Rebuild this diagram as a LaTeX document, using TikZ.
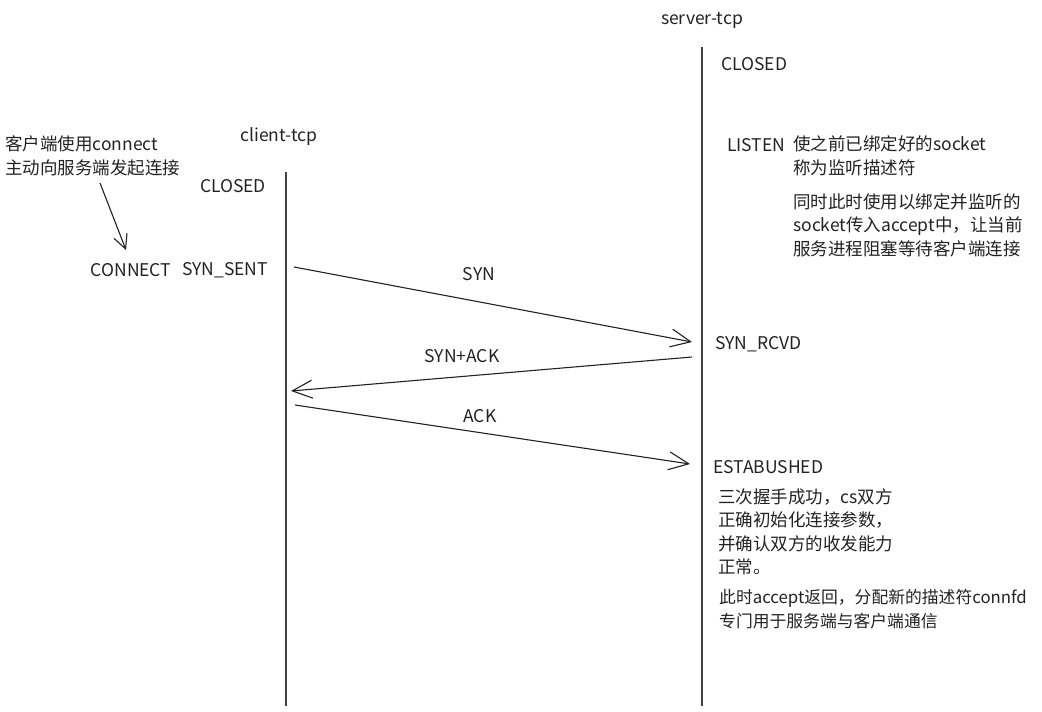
\documentclass[tikz,border=0pt]{standalone}
\usepackage{fontspec}
\setmainfont{Noto Sans CJK SC}
\usetikzlibrary{arrows.meta}
\definecolor{ink}{HTML}{222222}
\definecolor{lifeln}{HTML}{444444}
\tikzset{
  txt/.style={inner sep=0pt, text=ink, font=\fontsize{17.5}{23.5}\selectfont},
  lbl/.style={txt, anchor=west, align=left},
  life/.style={draw=lifeln, line width=1.3pt},
  msg/.style={draw=ink, line width=1.1pt, -{Straight Barb[length=20pt,width=18pt,line width=1.1pt]}},
  note/.style={draw=ink, line width=1.1pt, -{Straight Barb[length=14pt,width=14pt,line width=1.1pt]}}
}
\begin{document}
\begin{tikzpicture}[x=1pt,y=-1pt]
\useasboundingbox (0,0) rectangle (1042,712);
% lifelines
\coordinate (ctop) at (286,172);
\coordinate (cbot) at (286,706);
\coordinate (stop) at (702,47);
\coordinate (sbot) at (702,706);
\draw[life] (ctop) -- (cbot);
\draw[life] (stop) -- (sbot);
% titles
\node[txt] (server) at (702,20) {server-tcp};
\node[txt] (client) at (279,137) {client-tcp};
% client side
\node[lbl] (cnote) at (5,156) {客户端使用connect\\主动向服务端发起连接};
\node[txt] (cclosed) at (233,186) {CLOSED};
\node[txt] (connect) at (131,270) {CONNECT};
\node[txt] (synsent) at (225,270) {SYN\_SENT};
\coordinate (na) at (100,183);
\coordinate (nb) at (126,250);
\draw[note] (na) -- (nb);
% server side
\node[lbl] (sclosed) at (721,64) {CLOSED};
\node[lbl] (listen) at (727,145) {LISTEN};
\node[lbl] (lnote) at (793,156) {使之前已绑定好的socket\\称为监听描述符};
\node[lbl] (anote) at (793,225) {同时此时使用以绑定并监听的\\socket传入accept中，让当前\\服务进程阻塞等待客户端连接};
\node[lbl] (synrcvd) at (715,344) {SYN\_RCVD};
\node[lbl] (estab) at (713,467) {ESTABUSHED};
\node[lbl] (enote) at (718,532) {三次握手成功，cs双方\\正确初始化连接参数，\\并确认双方的收发能力\\正常。};
\node[lbl, font=\fontsize{16.8}{23.5}\selectfont] (cnote2) at (719,609) {此时accept返回，分配新的描述符connfd\\专门用于服务端与客户端通信};
% messages
\coordinate (syna) at (294,267);
\coordinate (synb) at (692,342);
\coordinate (saa) at (692,357);
\coordinate (sab) at (291,391);
\coordinate (acka) at (295,405);
\coordinate (ackb) at (690,464);
\draw[msg] (syna) -- (synb);
\draw[msg] (saa) -- (sab);
\draw[msg] (acka) -- (ackb);
\node[txt] (synl) at (479,274) {SYN};
\node[txt] (sal) at (462,356) {SYN+ACK};
\node[txt] (ackl) at (480,416) {ACK};
\end{tikzpicture}
\end{document}
